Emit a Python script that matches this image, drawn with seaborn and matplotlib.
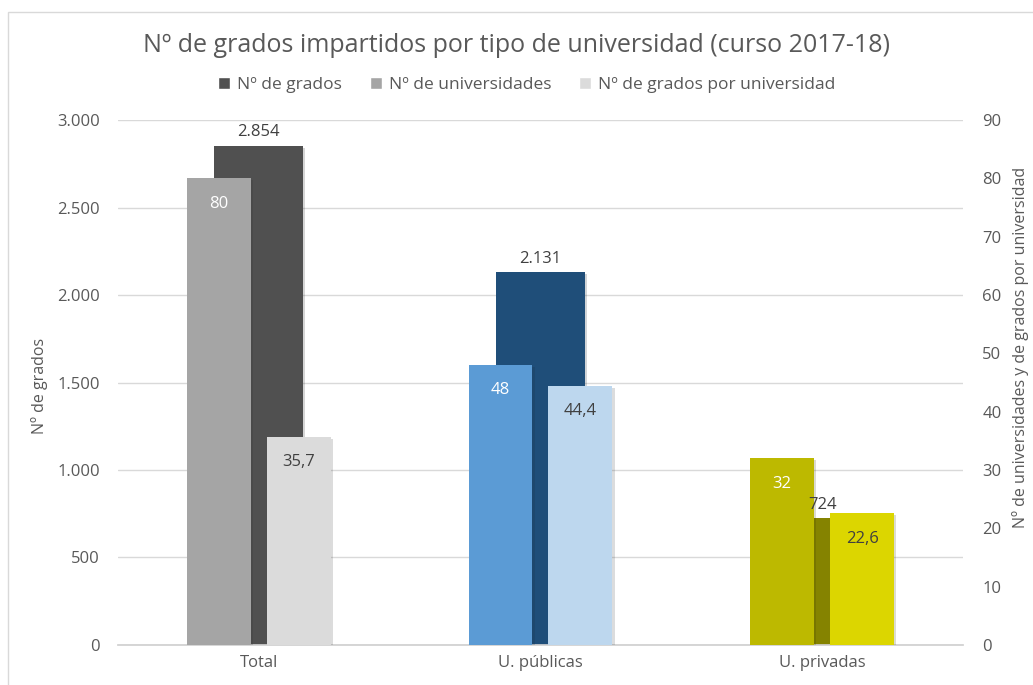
import numpy as np
import pandas as pd
import matplotlib.pyplot as plt
import matplotlib.patheffects as pe
from matplotlib.patches import Patch, Rectangle
from matplotlib.ticker import FuncFormatter, MultipleLocator
import seaborn as sns

# Data
categorias = ['Total', 'U. públicas', 'U. privadas']
n_grados = [2854, 2131, 724]
n_universidades = [80, 48, 32]
grados_por_univ = [35.7, 44.4, 22.6]

lbl_grados = ['2.854', '2.131', '724']
lbl_univ = ['80', '48', '32']
lbl_gpu = ['35,7', '44,4', '22,6']

# colours per category (dark = grados, mid = universidades, light = grados/univ)
col_dark = ['#505050', '#1F4E79', '#858300']
col_mid = ['#A5A5A5', '#5B9BD5', '#BDB900']
col_light = ['#DBDBDB', '#BDD7EE', '#DCD600']

sns.set_theme(style='white')
plt.rcParams['font.family'] = ['Open Sans', 'DejaVu Sans']
txt = '#595959'

pos = np.arange(len(categorias))
off = 0.142
shadow = [pe.withSimplePatchShadow(offset=(1.5, -1.5), alpha=0.18)]

fig = plt.figure(figsize=(10.33, 6.85), dpi=100)
ax = fig.add_axes([0.1142, 0.0584, 0.818, 0.7664])

df_main = pd.DataFrame({'x': pos, 'y': n_grados})
sns.barplot(data=df_main, x='x', y='y', native_scale=True, width=0.316,
            color=col_dark[0], edgecolor='none', linewidth=0, ax=ax)
for p, c in zip(ax.patches, col_dark):
    p.set_facecolor(c)
    p.set_path_effects(shadow)

ax.set_xlim(-0.5, 2.5)
ax.set_ylim(0, 3000)
ax.yaxis.set_major_locator(MultipleLocator(500))
ax.yaxis.set_major_formatter(FuncFormatter(lambda v, _: f'{int(v):,}'.replace(',', '.')))
ax.grid(axis='y', color='#D9D9D9', linewidth=1)
ax.set_axisbelow(True)
ax.set_xticks(pos)
ax.set_xticklabels(categorias)
for s in ['top', 'left', 'right']:
    ax.spines[s].set_visible(False)
ax.spines['bottom'].set_color('#D0D0D0')
ax.tick_params(axis='both', length=0, labelsize=12, colors=txt)
ax.tick_params(axis='y', pad=13)
ax.tick_params(axis='x', pad=7)
ax.set_xlabel('')
ax.set_ylabel('Nº de grados', fontsize=11.5, color=txt)
ax.yaxis.set_label_coords(-0.083, 0.493)

ax2 = ax.twinx()
df_u = pd.DataFrame({'x': pos - off, 'y': n_universidades})
df_g = pd.DataFrame({'x': pos + off, 'y': grados_por_univ})
sns.barplot(data=df_u, x='x', y='y', native_scale=True, width=0.227,
            color=col_mid[0], edgecolor='none', linewidth=0, ax=ax2)
sns.barplot(data=df_g, x='x', y='y', native_scale=True, width=0.227,
            color=col_light[0], edgecolor='none', linewidth=0, ax=ax2)
bars = ax2.patches
for p, c in zip(bars[:3], col_mid):
    p.set_facecolor(c)
    p.set_path_effects(shadow)
for p, c in zip(bars[3:6], col_light):
    p.set_facecolor(c)
    p.set_path_effects(shadow)

ax2.set_xlim(-0.5, 2.5)
ax2.set_ylim(0, 90)
ax2.yaxis.set_major_locator(MultipleLocator(10))
ax2.grid(False)
for s in ['top', 'left', 'right', 'bottom']:
    ax2.spines[s].set_visible(False)
ax2.tick_params(axis='y', length=0, labelsize=12, colors=txt, pad=14)
ax2.set_xlabel('')
ax2.set_ylabel('Nº de universidades y de grados por universidad', fontsize=11.5,
               color=txt)
ax2.yaxis.set_label_coords(1.058, 0.566)

ax2.bar_label(ax2.containers[0], labels=lbl_univ, padding=-24, fontsize=12, color='white')
ax2.bar_label(ax2.containers[1], labels=lbl_gpu, padding=-24, fontsize=12, color='#404040')

# labels of the primary bars go on the top axes so they sit above the other bars
for p, lab in zip(ax.containers[0], lbl_grados):
    ax2.annotate(lab, (p.get_x() + p.get_width() / 2, p.get_height()),
                 xycoords=ax.transData, xytext=(0, 4), textcoords='offset points',
                 ha='center', va='bottom', fontsize=12, color='#404040')

fig.text(0.5, 1 - 45 / 685, 'Nº de grados impartidos por tipo de universidad (curso 2017-18)',
         ha='center', va='center', fontsize=18, color=txt)

handles = [Patch(facecolor=col_dark[0]), Patch(facecolor=col_mid[0]),
           Patch(facecolor=col_light[0])]
fig.legend(handles, ['Nº de grados', 'Nº de universidades', 'Nº de grados por universidad'],
           loc='center', bbox_to_anchor=(0.51, 1 - 85 / 685), ncol=3, frameon=False,
           fontsize=12.5, labelcolor=txt, handlelength=0.7, handleheight=0.7,
           handletextpad=0.4, columnspacing=1.6)

# light frame of the original chart area
fig.patches.append(Rectangle((8 / 1033, -0.05), 1.1, 1.05 - 12 / 685,
                             transform=fig.transFigure, fill=False,
                             edgecolor='#D9D9D9', linewidth=1))

fig.savefig('out.png', dpi=100)
